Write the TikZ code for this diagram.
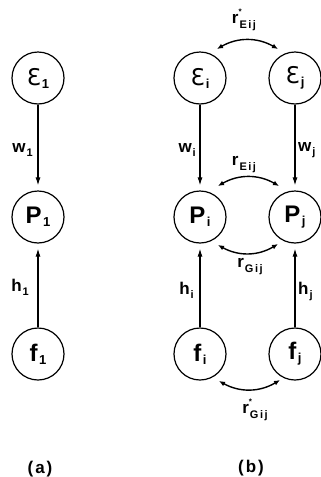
\documentclass[tikz,border=0pt]{standalone}
\usepackage{fontspec}
\setmainfont{Liberation Sans}
\newfontfamily\dejavu{DejaVu Sans}
\usetikzlibrary{arrows.meta,calc}
\newcommand\ndtxt[2]{{\fontsize{24}{24}\selectfont\bfseries #1}\kern1.5pt\raisebox{-3pt}{\fontsize{13}{13}\selectfont\bfseries #2}}
\newcommand\epstxt[1]{{\fontsize{23}{23}\selectfont\dejavu Ɛ}\kern1pt\raisebox{-3pt}{\fontsize{13}{13}\selectfont\bfseries #1}}
\newcommand\lbltxt[2]{{\fontsize{17}{17}\selectfont\bfseries #1}\kern1pt\raisebox{-4pt}{\fontsize{11}{11}\selectfont\bfseries #2}}
\newcommand\rtxt[2]{{\fontsize{17}{17}\selectfont\bfseries r}\rlap{\raisebox{9pt}{\fontsize{8}{8}\selectfont\bfseries *}}\kern1pt\raisebox{-5pt}{\fontsize{11}{11}\selectfont\bfseries #2}}
\newcommand\rptxt[1]{{\fontsize{17}{17}\selectfont\bfseries r}\kern1pt\raisebox{-5pt}{\fontsize{11}{11}\selectfont\bfseries #1}}
\tikzset{
  cir/.style={circle,draw,line width=1.2pt,minimum size=52pt,inner sep=0pt},
  arr/.style={-{Latex[length=8pt,width=5pt]},line width=1.1pt,shorten >=5pt},
  dbl/.style={{Latex[length=6pt,width=5pt]}-{Latex[length=6pt,width=5pt]},line width=1.4pt},
  lbl/.style={inner sep=0pt},
  captxt/.style={inner sep=0pt,font=\fontsize{17}{17}\selectfont\bfseries}
}
\begin{document}
\begin{tikzpicture}[x=1pt,y=-1pt]
\useasboundingbox (0,0) rectangle (321,477);
% (a)
\node[cir] (e1) at (38,78) {\epstxt{1}};
\node[cir] (p1) at (38,217) {\ndtxt{P}{1}};
\node[cir] (f1) at (38,354) {\ndtxt{f}{1}};
\draw[arr] (e1) -- (p1);
\draw[arr] (f1) -- (p1);
\node[lbl,anchor=east] (w1) at (33,150) {\lbltxt{w}{1}};
\node[lbl,anchor=east] (h1) at (29,287) {\lbltxt{h}{1}};
\node[captxt] (ca) at (40,469) {(\kern2pt a\kern2pt)};
% (b)
\node[cir] (ei) at (200,78) {\epstxt{i}};
\node[cir] (ej) at (295,78) {\epstxt{j}};
\node[cir] (pi) at (200,217) {\ndtxt{P}{i}};
\node[cir] (pj) at (295,217) {\ndtxt{P}{j}};
\node[cir] (fi) at (200,354) {\ndtxt{f}{i}};
\node[cir] (fj) at (295,354) {\ndtxt{f}{j}};
\draw[arr] (ei) -- (pi);
\draw[arr] (ej) -- (pj);
\draw[arr] (fi) -- (pi);
\draw[arr] (fj) -- (pj);
\node[lbl,anchor=east] (wi) at (196,150) {\lbltxt{w}{i}};
\node[lbl,anchor=west] (wj) at (298,150) {\lbltxt{w}{j}};
\node[lbl,anchor=east] (hi) at (194,290) {\lbltxt{h}{i}};
\node[lbl,anchor=west] (hj) at (298,291) {\lbltxt{h}{j}};
\coordinate (a1) at ($(ei)+(17,-29)$);
\coordinate (a2) at ($(ej)+(-17,-29)$);
\coordinate (b1) at ($(pi)+(18,-31)$);
\coordinate (b2) at ($(pj)+(-16,-31)$);
\coordinate (c1) at ($(pi)+(18,28)$);
\coordinate (c2) at ($(pj)+(-17,27)$);
\coordinate (d1) at ($(fi)+(19,27)$);
\coordinate (d2) at ($(fj)+(-15,26)$);
\draw[dbl] (a1) to[bend left=30] (a2);
\draw[dbl] (b1) to[bend left=30] (b2);
\draw[dbl] (c1) to[bend right=30] (c2);
\draw[dbl] (d1) to[bend right=30] (d2);
\node[lbl] (rse) at (244,20) {\rtxt{r}{E\kern1.5pt i\kern1.5pt j}};
\node[lbl] (re) at (244,165) {\rptxt{E\kern1.5pt i\kern1.5pt j}};
\node[lbl] (rg) at (250,267) {\rptxt{G\kern1.5pt i\kern1.5pt j}};
\node[lbl] (rsg) at (255,410) {\rtxt{r}{G\kern1.5pt i\kern1.5pt j}};
\node[captxt] (cb) at (251,468) {(\kern2pt b\kern2pt)};
\end{tikzpicture}
\end{document}
